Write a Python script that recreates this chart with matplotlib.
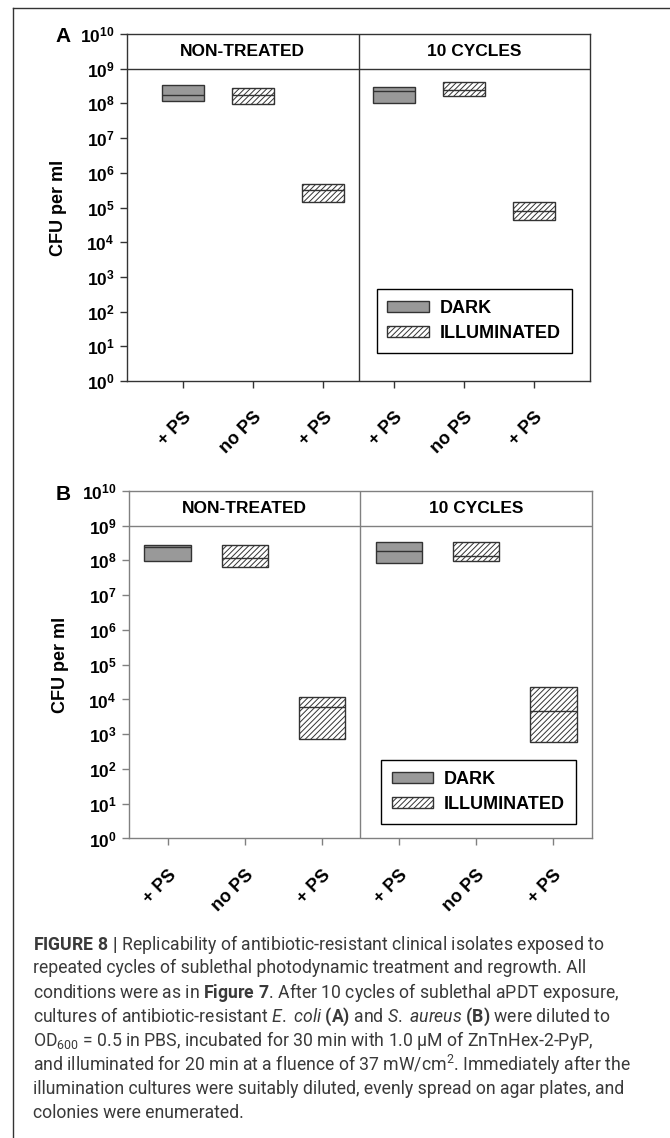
import numpy as np
import matplotlib.pyplot as plt
from matplotlib.lines import Line2D
from matplotlib.patches import Patch
from matplotlib.ticker import NullLocator

plt.rcParams['font.family'] = ['Liberation Sans', 'DejaVu Sans']
plt.rcParams['mathtext.fontset'] = 'custom'
plt.rcParams['mathtext.rm'] = 'Roboto'
plt.rcParams['mathtext.it'] = 'Roboto:italic'
plt.rcParams['mathtext.bf'] = 'Roboto:bold'
plt.rcParams['hatch.linewidth'] = 0.7

labels = ['+ PS', 'no PS', '+ PS', '+ PS', 'no PS', '+ PS']
groups = ['NON-TREATED', '10 CYCLES']
illum = [False, True, True, False, True, True]

# E. coli (A): box low / median / high, CFU per ml
a_low = [1.2e8, 9.4e7, 1.4e5, 1.0e8, 1.6e8, 4.3e4]
a_mid = [1.8e8, 1.75e8, 3.3e5, 2.3e8, 2.4e8, 7.8e4]
a_high = [3.4e8, 2.7e8, 4.9e5, 2.9e8, 4.2e8, 1.45e5]

# S. aureus (B)
b_low = [9.4e7, 6.6e7, 7.5e2, 8.2e7, 9.6e7, 5.9e2]
b_mid = [2.4e8, 1.17e8, 6.0e3, 1.9e8, 1.3e8, 4.8e3]
b_high = [2.8e8, 2.8e8, 1.15e4, 3.5e8, 3.3e8, 2.3e4]

caption = [
    r"$\mathbf{FIGURE\ 8\ |}$ Replicability of antibiotic-resistant clinical isolates exposed to",
    "repeated cycles of sublethal photodynamic treatment and regrowth. All",
    r"conditions were as in $\mathbf{Figure\ 7}$. After 10 cycles of sublethal aPDT exposure,",
    r"cultures of antibiotic-resistant $\mathit{E.}$ $\mathit{coli}$ $\mathbf{(A)}$ and $\mathit{S.}$ $\mathit{aureus}$ $\mathbf{(B)}$ were diluted to",
    r"OD$_{600}$ = 0.5 in PBS, incubated for 30 min with 1.0 µM of ZnTnHex-2-PyP,",
    r"and illuminated for 20 min at a fluence of 37 mW/cm$^{2}$. Immediately after the",
    "illumination cultures were suitably diluted, evenly spread on agar plates, and",
    "colonies were enumerated.",
]

DARK = '#999999'
EDGE = '#333333'


def draw_panel(ax, low, mid, high, xlim, sc, leg_box):
    low = np.array(low)
    mid = np.array(mid)
    high = np.array(high)
    x = np.arange(len(labels))
    for i in x:
        if illum[i]:
            ax.bar(i, high[i] - low[i], bottom=low[i], width=0.6, color='white',
                   edgecolor=EDGE, hatch='//////', linewidth=1, zorder=3)
        else:
            ax.bar(i, high[i] - low[i], bottom=low[i], width=0.6, color=DARK,
                   edgecolor=EDGE, linewidth=1, zorder=3)
        ax.hlines(mid[i], i - 0.3, i + 0.3, color=EDGE, lw=1, zorder=4)

    ax.set_yscale('log')
    ax.set_ylim(1, 1e10)
    ax.set_xlim(*xlim)
    ax.set_yticks(10.0 ** np.arange(0, 11))
    ax.yaxis.set_minor_locator(NullLocator())
    ax.set_xticks(x)
    ax.set_xticklabels(labels, rotation=45, ha='right', va='top',
                       rotation_mode='anchor', fontweight='bold', fontsize=13)
    for t in ax.get_yticklabels():
        t.set_fontweight('bold')
        t.set_fontsize(12.5)
    ax.tick_params(axis='y', direction='out', length=5, width=1, color=sc, pad=4)
    ax.tick_params(axis='x', direction='out', length=5, width=1, color=sc, pad=15)
    for s in ax.spines.values():
        s.set_color(sc)
        s.set_linewidth(1)

    ax.axhline(1e9, color=sc, lw=1)
    ax.axvline(2.5, color=sc, lw=1)
    ax.text((xlim[0] + 2.5) / 2, 10 ** 9.5, groups[0], ha='center', va='center',
            fontsize=12.5, fontweight='bold')
    ax.text((xlim[1] + 2.5) / 2, 10 ** 9.5, groups[1], ha='center', va='center',
            fontsize=12.5, fontweight='bold')

    ax.set_ylabel('CFU per ml', fontsize=13, fontweight='bold')
    ax.yaxis.set_label_coords(-0.13, 0.5)

    handles = [Patch(facecolor=DARK, edgecolor=EDGE, label='DARK'),
               Patch(facecolor='white', edgecolor=EDGE, hatch='//////', label='ILLUMINATED')]
    leg = ax.legend(handles=handles, loc='center', bbox_to_anchor=leg_box,
                    prop={'weight': 'bold', 'size': 13}, fancybox=False,
                    edgecolor='black', framealpha=1, handlelength=2.3,
                    handleheight=0.6, handletextpad=0.6, labelspacing=0.45,
                    borderpad=0.6)
    leg.get_frame().set_linewidth(1)


fig = plt.figure(figsize=(6.7, 11.38), dpi=100)

axA = fig.add_axes([0.1896, 0.6652, 0.691, 0.3049])
draw_panel(axA, a_low, a_mid, a_high, (-0.8, 5.8), '#333333',
           (0.544, 0.078, 0.411, 0.19))

axB = fig.add_axes([0.1925, 0.2632, 0.691, 0.3054])
draw_panel(axB, b_low, b_mid, b_high, (-0.5, 5.5), '#808080',
           (0.551, 0.039, 0.408, 0.19))

fig.text(63 / 670, 1 - 37 / 1138, 'A', ha='center', va='center',
         fontsize=15, fontweight='bold')
fig.text(63 / 670, 1 - 495 / 1138, 'B', ha='center', va='center',
         fontsize=15, fontweight='bold')

# frame of the figure box
fig.add_artist(Line2D([13 / 670, 13 / 670], [0, 1 - 8 / 1138],
                      transform=fig.transFigure, color='#333333', lw=1))
fig.add_artist(Line2D([13 / 670, 1], [1 - 8 / 1138, 1 - 8 / 1138],
                      transform=fig.transFigure, color='#333333', lw=1))

for k, line in enumerate(caption):
    y = 944 + k * 24.2
    fig.text(33 / 670, 1 - y / 1138, line, ha='left', va='center',
             fontsize=12.7, family=['Roboto', 'DejaVu Sans'], color='#3a3a3a')

fig.savefig('out.png', dpi=100)
